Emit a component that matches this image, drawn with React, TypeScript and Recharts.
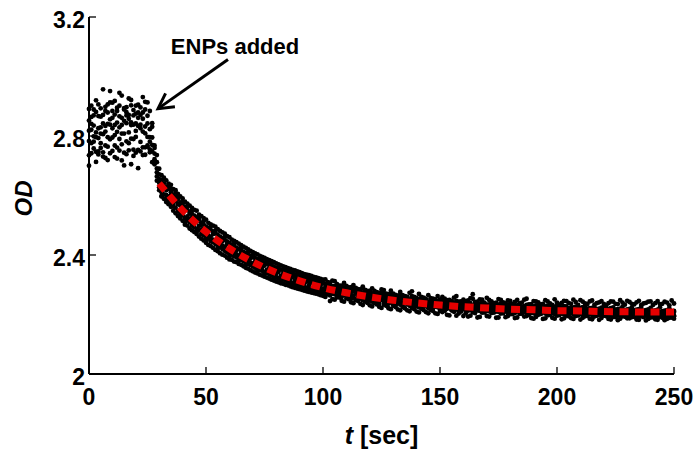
import {
  ComposedChart,
  Line,
  ReferenceDot,
  ReferenceLine,
  Scatter,
  XAxis,
  YAxis,
} from 'recharts'

// MATLAB-style figure: black box, inward ticks, bold Helvetica-like labels.
const FONT = '"Liberation Sans", Arial, Helvetica, sans-serif'
const INK = '#000'
const FIT_RED = '#e60000'
const TICK_LEN = 7

const xTicks = [0, 50, 100, 150, 200, 250]
const yTicks = [2, 2.4, 2.8, 3.2]

// sample times [sec]
const tSec = [
  0, 1, 2, 3, 4, 5, 6, 7, 8, 9, 10, 11, 12, 13, 14, 15, 16, 17, 18, 19,
  20, 21, 22, 23, 24, 25, 26, 27, 28, 29, 30, 31, 32, 33, 34, 35, 36, 37, 38, 39,
  40, 41, 42, 43, 44, 45, 46, 47, 48, 49, 50, 51, 52, 53, 54, 55, 56, 57, 58, 59,
  60, 61, 62, 63, 64, 65, 66, 67, 68, 69, 70, 71, 72, 73, 74, 75, 76, 77, 78, 79,
  80, 81, 82, 83, 84, 85, 86, 87, 88, 89, 90, 91, 92, 93, 94, 95, 96, 97, 98, 99,
  100, 101, 102, 103, 104, 105, 106, 107, 108, 109, 110, 111, 112, 113, 114, 115, 116, 117, 118, 119,
  120, 121, 122, 123, 124, 125, 126, 127, 128, 129, 130, 131, 132, 133, 134, 135, 136, 137, 138, 139,
  140, 141, 142, 143, 144, 145, 146, 147, 148, 149, 150, 151, 152, 153, 154, 155, 156, 157, 158, 159,
  160, 161, 162, 163, 164, 165, 166, 167, 168, 169, 170, 171, 172, 173, 174, 175, 176, 177, 178, 179,
  180, 181, 182, 183, 184, 185, 186, 187, 188, 189, 190, 191, 192, 193, 194, 195, 196, 197, 198, 199,
  200, 201, 202, 203, 204, 205, 206, 207, 208, 209, 210, 211, 212, 213, 214, 215, 216, 217, 218, 219,
  220, 221, 222, 223, 224, 225, 226, 227, 228, 229, 230, 231, 232, 233, 234, 235, 236, 237, 238, 239,
  240, 241, 242, 243, 244, 245, 246, 247, 248, 249, 250,
]

// six OD readings per sample time
const odA = [
  2.852, 2.776, 2.835, 2.881, 2.793, 2.760, 2.842, 2.815, 2.906, 2.789,
  2.861, 2.803, 2.884, 2.829, 2.772, 2.851, 2.897, 2.812, 2.846, 2.790,
  2.875, 2.834, 2.780, 2.858, 2.809, 2.842, 2.781,
  2.795, 2.741, 2.691, 2.655,
  2.652, 2.604, 2.630, 2.585, 2.611, 2.563, 2.595, 2.548, 2.577, 2.533,
  2.561, 2.517, 2.546, 2.499, 2.532, 2.488, 2.519, 2.471, 2.503, 2.460,
  2.490, 2.446, 2.479, 2.437, 2.468, 2.426, 2.457, 2.414, 2.446, 2.403,
  2.435, 2.396, 2.425, 2.388, 2.416, 2.379, 2.407, 2.370, 2.398, 2.361,
  2.389, 2.354, 2.382, 2.347, 2.375, 2.339, 2.368, 2.332, 2.361, 2.325,
  2.354, 2.319, 2.349, 2.314, 2.343, 2.308, 2.337, 2.303, 2.332, 2.297,
  2.327, 2.292, 2.322, 2.288, 2.318, 2.283, 2.313, 2.279, 2.308, 2.274,
  2.301, 2.275, 2.290, 2.270, 2.296, 2.286, 2.271, 2.289, 2.266, 2.282,
  2.259, 2.284, 2.262, 2.275, 2.279, 2.254, 2.271, 2.257, 2.269, 2.247,
  2.270, 2.251, 2.263, 2.248, 2.267, 2.243, 2.258, 2.262, 2.240, 2.255,
  2.259, 2.238, 2.252, 2.236, 2.255, 2.234, 2.250, 2.235, 2.248, 2.227,
  2.245, 2.233, 2.244, 2.229, 2.243, 2.231, 2.240, 2.226, 2.239, 2.228,
  2.237, 2.225, 2.236, 2.222, 2.241, 2.220, 2.233, 2.224, 2.235, 2.218,
  2.232, 2.219, 2.230, 2.215, 2.233, 2.221, 2.228, 2.216, 2.231, 2.218,
  2.227, 2.213, 2.229, 2.217, 2.226, 2.212, 2.223, 2.215, 2.226, 2.210,
  2.224, 2.213, 2.222, 2.208, 2.226, 2.212, 2.221, 2.209, 2.224, 2.213,
  2.220, 2.207, 2.225, 2.211, 2.219, 2.206, 2.223, 2.210, 2.217, 2.204,
  2.222, 2.209, 2.216, 2.203, 2.221, 2.208, 2.215, 2.202, 2.220, 2.207,
  2.214, 2.201, 2.219, 2.206, 2.213, 2.200, 2.218, 2.205, 2.212, 2.199,
  2.217, 2.204, 2.211, 2.198, 2.216, 2.203, 2.210, 2.197, 2.215, 2.202,
  2.209, 2.196, 2.214, 2.201, 2.208, 2.195, 2.213, 2.200, 2.207, 2.194,
  2.212, 2.199, 2.206, 2.193, 2.211, 2.198, 2.205, 2.192, 2.210, 2.197,
]

const odB = [
  2.783, 2.841, 2.758, 2.812, 2.867, 2.829, 2.745, 2.884, 2.796, 2.838,
  2.795, 2.872, 2.814, 2.751, 2.861, 2.808, 2.843, 2.776, 2.903, 2.838,
  2.797, 2.861, 2.826, 2.762, 2.889, 2.768, 2.823,
  2.748, 2.705, 2.664, 2.628,
  2.611, 2.641, 2.589, 2.622, 2.570, 2.601, 2.559, 2.587, 2.541, 2.569,
  2.524, 2.551, 2.510, 2.538, 2.493, 2.526, 2.483, 2.509, 2.466, 2.495,
  2.455, 2.484, 2.443, 2.473, 2.431, 2.462, 2.420, 2.451, 2.409, 2.441,
  2.401, 2.430, 2.392, 2.421, 2.384, 2.411, 2.375, 2.402, 2.366, 2.393,
  2.357, 2.386, 2.350, 2.379, 2.343, 2.371, 2.336, 2.364, 2.329, 2.357,
  2.322, 2.351, 2.317, 2.346, 2.311, 2.340, 2.305, 2.335, 2.300, 2.329,
  2.295, 2.324, 2.290, 2.320, 2.286, 2.315, 2.281, 2.311, 2.276, 2.306,
  2.279, 2.296, 2.245, 2.289, 2.274, 2.263, 2.291, 2.268, 2.283, 2.261,
  2.280, 2.265, 2.278, 2.251, 2.260, 2.273, 2.248, 2.276, 2.250, 2.266,
  2.253, 2.268, 2.242, 2.266, 2.249, 2.260, 2.238, 2.245, 2.257, 2.235,
  2.242, 2.253, 2.233, 2.257, 2.241, 2.249, 2.229, 2.254, 2.231, 2.246,
  2.232, 2.249, 2.226, 2.241, 2.225, 2.248, 2.222, 2.238, 2.224, 2.243,
  2.221, 2.240, 2.219, 2.235, 2.226, 2.234, 2.217, 2.238, 2.219, 2.231,
  2.215, 2.236, 2.222, 2.229, 2.218, 2.235, 2.212, 2.230, 2.214, 2.233,
  2.211, 2.226, 2.216, 2.231, 2.209, 2.224, 2.208, 2.230, 2.213, 2.222,
  2.207, 2.229, 2.211, 2.225, 2.214, 2.228, 2.206, 2.224, 2.211, 2.227,
  2.205, 2.222, 2.210, 2.226, 2.203, 2.221, 2.209, 2.225, 2.202, 2.220,
  2.208, 2.224, 2.201, 2.219, 2.207, 2.223, 2.200, 2.218, 2.206, 2.222,
  2.199, 2.217, 2.205, 2.221, 2.198, 2.216, 2.204, 2.220, 2.197, 2.215,
  2.203, 2.219, 2.196, 2.214, 2.202, 2.218, 2.195, 2.213, 2.201, 2.217,
  2.194, 2.212, 2.200, 2.216, 2.193, 2.211, 2.199, 2.215, 2.192, 2.210,
  2.198, 2.214, 2.191, 2.209, 2.197, 2.213, 2.190, 2.208, 2.196, 2.212,
]

const odC = [
  2.818, 2.864, 2.799, 2.747, 2.826, 2.893, 2.806, 2.768, 2.841, 2.951,
  2.826, 2.768, 2.845, 2.902, 2.808, 2.744, 2.869, 2.858, 2.791, 2.869,
  2.817, 2.753, 2.896, 2.815, 2.762, 2.913, 2.796,
  2.831, 2.768, 2.712, 2.671,
  2.637, 2.628, 2.618, 2.640, 2.599, 2.590, 2.610, 2.571, 2.566, 2.545,
  2.552, 2.530, 2.539, 2.525, 2.517, 2.512, 2.498, 2.501, 2.488, 2.470,
  2.481, 2.461, 2.470, 2.448, 2.459, 2.437, 2.445, 2.428, 2.437, 2.416,
  2.422, 2.409, 2.414, 2.399, 2.407, 2.390, 2.396, 2.381, 2.388, 2.372,
  2.378, 2.365, 2.371, 2.358, 2.364, 2.350, 2.357, 2.343, 2.350, 2.336,
  2.343, 2.330, 2.338, 2.325, 2.332, 2.319, 2.326, 2.314, 2.321, 2.308,
  2.316, 2.303, 2.311, 2.299, 2.307, 2.294, 2.302, 2.290, 2.297, 2.285,
  2.292, 2.308, 2.281, 2.295, 2.268, 2.293, 2.284, 2.259, 2.290, 2.277,
  2.268, 2.253, 2.286, 2.270, 2.255, 2.281, 2.266, 2.252, 2.274, 2.261,
  2.243, 2.276, 2.257, 2.250, 2.273, 2.247, 2.264, 2.236, 2.268, 2.249,
  2.231, 2.262, 2.247, 2.240, 2.261, 2.237, 2.245, 2.278, 2.239, 2.252,
  2.224, 2.241, 2.256, 2.234, 2.239, 2.228, 2.245, 2.251, 2.231, 2.219,
  2.233, 2.228, 2.244, 2.227, 2.214, 2.239, 2.229, 2.221, 2.242, 2.225,
  2.227, 2.213, 2.238, 2.224, 2.209, 2.228, 2.236, 2.219, 2.226, 2.212,
  2.234, 2.220, 2.207, 2.225, 2.218, 2.236, 2.221, 2.211, 2.233, 2.217,
  2.228, 2.205, 2.231, 2.218, 2.203, 2.223, 2.214, 2.229, 2.205, 2.218,
  2.231, 2.213, 2.202, 2.220, 2.227, 2.211, 2.201, 2.219, 2.226, 2.209,
  2.216, 2.203, 2.228, 2.212, 2.199, 2.217, 2.224, 2.208, 2.214, 2.201,
  2.225, 2.210, 2.197, 2.215, 2.222, 2.206, 2.212, 2.199, 2.223, 2.209,
  2.195, 2.213, 2.221, 2.205, 2.210, 2.197, 2.220, 2.207, 2.193, 2.211,
  2.219, 2.203, 2.208, 2.196, 2.218, 2.206, 2.191, 2.210, 2.217, 2.201,
  2.207, 2.195, 2.216, 2.204, 2.190, 2.209, 2.215, 2.200, 2.206, 2.194,
]

const odD = [
  2.700, 2.821, 2.889, 2.796, 2.738, 2.808, 2.871, 2.834, 2.719, 2.856,
  2.884, 2.837, 2.724, 2.866, 2.837, 2.889, 2.782, 2.926, 2.837, 2.754,
  2.842, 2.905, 2.838, 2.879, 2.832, 2.797, 2.755,
  2.770, 2.722, 2.678, 2.642,
  2.598, 2.655, 2.602, 2.597, 2.624, 2.572, 2.581, 2.596, 2.530, 2.578,
  2.509, 2.562, 2.521, 2.551, 2.506, 2.479, 2.530, 2.486, 2.514, 2.451,
  2.466, 2.497, 2.452, 2.481, 2.422, 2.455, 2.431, 2.462, 2.418, 2.394,
  2.410, 2.437, 2.401, 2.383, 2.425, 2.402, 2.369, 2.410, 2.374, 2.399,
  2.364, 2.348, 2.389, 2.368, 2.337, 2.378, 2.345, 2.371, 2.324, 2.349,
  2.361, 2.314, 2.326, 2.352, 2.318, 2.303, 2.344, 2.327, 2.295, 2.336,
  2.303, 2.331, 2.285, 2.312, 2.324, 2.279, 2.290, 2.317, 2.284, 2.271,
  2.270, 2.284, 2.299, 2.276, 2.285, 2.279, 2.262, 2.281, 2.272, 2.294,
  2.285, 2.276, 2.257, 2.283, 2.271, 2.262, 2.289, 2.268, 2.256, 2.279,
  2.262, 2.245, 2.271, 2.237, 2.258, 2.282, 2.249, 2.255, 2.246, 2.263,
  2.251, 2.244, 2.266, 2.229, 2.247, 2.258, 2.236, 2.243, 2.226, 2.238,
  2.251, 2.229, 2.238, 2.247, 2.221, 2.240, 2.233, 2.229, 2.244, 2.236,
  2.247, 2.216, 2.231, 2.241, 2.233, 2.225, 2.246, 2.212, 2.228, 2.237,
  2.221, 2.230, 2.216, 2.268, 2.226, 2.214, 2.222, 2.243, 2.208, 2.227,
  2.219, 2.238, 2.224, 2.210, 2.233, 2.217, 2.229, 2.222, 2.206, 2.235,
  2.216, 2.221, 2.214, 2.236, 2.220, 2.209, 2.232, 2.213, 2.219, 2.204,
  2.215, 2.228, 2.218, 2.207, 2.214, 2.230, 2.217, 2.205, 2.212, 2.229,
  2.200, 2.218, 2.210, 2.227, 2.215, 2.204, 2.211, 2.226, 2.198, 2.216,
  2.209, 2.228, 2.213, 2.202, 2.210, 2.225, 2.196, 2.214, 2.207, 2.227,
  2.211, 2.200, 2.208, 2.224, 2.194, 2.212, 2.206, 2.226, 2.209, 2.198,
  2.205, 2.223, 2.192, 2.210, 2.204, 2.225, 2.208, 2.197, 2.203, 2.222,
  2.191, 2.209, 2.202, 2.224, 2.207, 2.196, 2.201, 2.221, 2.190, 2.208,
]

const odE = [
  2.735, 2.902, 2.781, 2.920, 2.748, 2.865, 2.957, 2.726, 2.879, 2.742,
  2.912, 2.729, 2.895, 2.790, 2.936, 2.701, 2.880, 2.752, 2.921, 2.733,
  2.902, 2.692, 2.871, 2.736, 2.915, 2.764, 2.884,
  2.843, 2.712, 2.736, 2.618,
  2.668, 2.589, 2.651, 2.571, 2.636, 2.621, 2.540, 2.605, 2.523, 2.590,
  2.502, 2.573, 2.489, 2.558, 2.477, 2.549, 2.462, 2.531, 2.449, 2.519,
  2.434, 2.503, 2.424, 2.495, 2.413, 2.481, 2.401, 2.472, 2.391, 2.460,
  2.452, 2.378, 2.443, 2.370, 2.433, 2.362, 2.424, 2.354, 2.414, 2.345,
  2.405, 2.338, 2.397, 2.331, 2.390, 2.324, 2.383, 2.317, 2.376, 2.311,
  2.368, 2.305, 2.362, 2.300, 2.356, 2.295, 2.350, 2.290, 2.345, 2.285,
  2.339, 2.280, 2.334, 2.276, 2.330, 2.272, 2.325, 2.268, 2.320, 2.263,
  2.318, 2.268, 2.306, 2.252, 2.312, 2.258, 2.297, 2.246, 2.306, 2.254,
  2.291, 2.241, 2.299, 2.248, 2.285, 2.236, 2.294, 2.243, 2.279, 2.231,
  2.288, 2.238, 2.275, 2.226, 2.284, 2.233, 2.270, 2.221, 2.280, 2.229,
  2.266, 2.217, 2.276, 2.225, 2.262, 2.214, 2.273, 2.222, 2.259, 2.210,
  2.269, 2.219, 2.256, 2.208, 2.265, 2.215, 2.253, 2.204, 2.262, 2.212,
  2.259, 2.212, 2.248, 2.197, 2.246, 2.209, 2.262, 2.203, 2.244, 2.195,
  2.245, 2.193, 2.255, 2.207, 2.242, 2.190, 2.251, 2.206, 2.240, 2.195,
  2.249, 2.205, 2.238, 2.189, 2.252, 2.203, 2.241, 2.191, 2.247, 2.201,
  2.236, 2.188, 2.249, 2.202, 2.240, 2.193, 2.253, 2.199, 2.235, 2.186,
  2.244, 2.199, 2.234, 2.185, 2.248, 2.197, 2.237, 2.189, 2.251, 2.196,
  2.233, 2.184, 2.246, 2.196, 2.239, 2.188, 2.250, 2.195, 2.232, 2.183,
  2.243, 2.194, 2.235, 2.186, 2.247, 2.193, 2.238, 2.182, 2.245, 2.196,
  2.231, 2.185, 2.244, 2.192, 2.236, 2.181, 2.248, 2.194, 2.233, 2.187,
  2.242, 2.191, 2.234, 2.183, 2.246, 2.195, 2.237, 2.180, 2.243, 2.190,
  2.232, 2.184, 2.245, 2.193, 2.236, 2.181, 2.240, 2.189, 2.247, 2.186,
]

const odF = [
  2.891, 2.742, 2.869, 2.713, 2.906, 2.776, 2.731, 2.898, 2.764, 2.913,
  2.750, 2.918, 2.761, 2.945, 2.718, 2.894, 2.739, 2.871, 2.705, 2.887,
  2.744, 2.879, 2.748, 2.931, 2.737, 2.868, 2.745,
  2.712, 2.760, 2.650, 2.690,
  2.597, 2.660, 2.578, 2.633, 2.562, 2.549, 2.618, 2.531, 2.597, 2.515,
  2.579, 2.499, 2.566, 2.483, 2.552, 2.471, 2.536, 2.455, 2.524, 2.441,
  2.508, 2.430, 2.499, 2.417, 2.487, 2.406, 2.476, 2.398, 2.463, 2.385,
  2.384, 2.447, 2.376, 2.438, 2.367, 2.428, 2.357, 2.419, 2.349, 2.410,
  2.341, 2.402, 2.334, 2.394, 2.327, 2.386, 2.321, 2.379, 2.314, 2.372,
  2.308, 2.365, 2.303, 2.359, 2.298, 2.353, 2.292, 2.348, 2.287, 2.342,
  2.283, 2.336, 2.278, 2.332, 2.274, 2.326, 2.270, 2.322, 2.265, 2.317,
  2.259, 2.309, 2.264, 2.314, 2.250, 2.302, 2.257, 2.297, 2.243, 2.296,
  2.251, 2.292, 2.238, 2.289, 2.245, 2.284, 2.232, 2.283, 2.239, 2.278,
  2.227, 2.279, 2.234, 2.273, 2.222, 2.272, 2.229, 2.268, 2.218, 2.270,
  2.225, 2.263, 2.214, 2.265, 2.221, 2.259, 2.211, 2.262, 2.218, 2.256,
  2.207, 2.259, 2.215, 2.252, 2.204, 2.255, 2.212, 2.249, 2.202, 2.251,
  2.208, 2.253, 2.199, 2.249, 2.214, 2.257, 2.196, 2.243, 2.210, 2.250,
  2.204, 2.247, 2.196, 2.253, 2.205, 2.243, 2.192, 2.250, 2.207, 2.256,
  2.193, 2.244, 2.207, 2.240, 2.190, 2.249, 2.204, 2.237, 2.195, 2.246,
  2.201, 2.242, 2.190, 2.237, 2.204, 2.250, 2.195, 2.234, 2.188, 2.245,
  2.192, 2.241, 2.202, 2.236, 2.187, 2.244, 2.199, 2.232, 2.186, 2.240,
  2.198, 2.239, 2.187, 2.245, 2.194, 2.236, 2.185, 2.242, 2.197, 2.248,
  2.189, 2.237, 2.196, 2.244, 2.184, 2.233, 2.197, 2.241, 2.188, 2.236,
  2.195, 2.238, 2.183, 2.243, 2.191, 2.235, 2.186, 2.240, 2.194, 2.246,
  2.187, 2.236, 2.193, 2.241, 2.182, 2.232, 2.196, 2.239, 2.185, 2.244,
  2.194, 2.238, 2.182, 2.235, 2.190, 2.243, 2.185, 2.231, 2.196, 2.237,
]

// exponential fit after the ENPs were added
const fitT = [30, 40, 50, 60, 70, 80, 90, 100, 110, 120, 130, 140, 150, 160, 170, 180, 190, 200, 210, 220, 230, 240, 250]
const fitOD = [
  2.640, 2.550, 2.478, 2.422, 2.377, 2.341, 2.313, 2.290, 2.273, 2.259, 2.248, 2.239,
  2.232, 2.226, 2.222, 2.218, 2.216, 2.213, 2.212, 2.210, 2.209, 2.208, 2.208,
]

// annotation anchor points, in data units
const NOTE_TEXT = { t: 62.4, od: 3.104 }
const NOTE_ARROW_FROM = { x: 59.4, y: 3.057 }
const NOTE_ARROW_TIP = { x: 29.5, y: 2.892 }

const points = [odA, odB, odC, odD, odE, odF].flatMap((series) =>
  series.map((od, i) => ({ t: tSec[i], od })),
)
const fitData = fitT.map((t, i) => ({ t, od: fitOD[i] }))

const labelStyle = { fontFamily: FONT, fontWeight: 700, fontSize: 23, fill: INK }

function BottomTick({ x, y, payload }: any) {
  return (
    <g>
      <line x1={x} y1={y} x2={x} y2={y - TICK_LEN} stroke={INK} strokeWidth={1.3} />
      <text x={x} y={y + 31} textAnchor="middle" {...labelStyle}>
        {payload.value}
      </text>
    </g>
  )
}

function TopTick({ x, y }: any) {
  return <line x1={x} y1={y} x2={x} y2={y + TICK_LEN} stroke={INK} strokeWidth={1.3} />
}

function LeftTick({ x, y, payload }: any) {
  return (
    <g>
      <line x1={x} y1={y} x2={x + TICK_LEN} y2={y} stroke={INK} strokeWidth={1.3} />
      <text x={x - 4} y={y + 11} textAnchor="end" {...labelStyle}>
        {payload.value}
      </text>
    </g>
  )
}

function RightTick({ x, y }: any) {
  return <line x1={x} y1={y} x2={x - TICK_LEN} y2={y} stroke={INK} strokeWidth={1.3} />
}

function Arrow({ x1, y1, x2, y2 }: any) {
  const dx = x1 - x2
  const dy = y1 - y2
  const len = Math.hypot(dx, dy) || 1
  const ux = dx / len
  const uy = dy / len
  const c = Math.cos(0.5)
  const s = Math.sin(0.5)
  const L = 17
  const ax = x2 + (ux * c - uy * s) * L
  const ay = y2 + (ux * s + uy * c) * L
  const bx = x2 + (ux * c + uy * s) * L
  const by = y2 + (-ux * s + uy * c) * L
  return (
    <g stroke={INK} strokeWidth={3} fill="none" strokeLinecap="butt">
      <line x1={x1} y1={y1} x2={x2} y2={y2} />
      <polyline points={`${ax},${ay} ${x2},${y2} ${bx},${by}`} strokeLinejoin="miter" />
    </g>
  )
}

export default function App() {
  return (
    <div style={{ position: 'absolute', left: 0, top: 0, background: '#fff' }}>
      <ComposedChart width={696} height={451} margin={{ top: 17, right: 22, bottom: 0, left: 0 }}>
        <XAxis
          dataKey="t"
          type="number"
          domain={[0, 250]}
          ticks={xTicks}
          interval={0}
          height={77}
          tickSize={0}
          tickMargin={0}
          tickLine={false}
          axisLine={{ stroke: INK, strokeWidth: 2 }}
          tick={<BottomTick />}
          label={{
            content: ({ viewBox }: any) => (
              <text x={viewBox.x + viewBox.width / 2} y={viewBox.y + 70} textAnchor="middle" {...labelStyle} fontSize={25}>
                <tspan fontStyle="italic">t</tspan> [sec]
              </text>
            ),
          }}
        />
        <XAxis
          xAxisId="top"
          orientation="top"
          type="number"
          domain={[0, 250]}
          ticks={xTicks}
          interval={0}
          height={0}
          tickSize={0}
          tickMargin={0}
          tickLine={false}
          axisLine={{ stroke: INK, strokeWidth: 2 }}
          tick={<TopTick />}
        />
        <YAxis
          dataKey="od"
          type="number"
          domain={[2, 3.2]}
          ticks={yTicks}
          interval={0}
          width={89}
          tickSize={0}
          tickMargin={0}
          tickLine={false}
          axisLine={{ stroke: INK, strokeWidth: 2 }}
          tick={<LeftTick />}
          label={{
            content: ({ viewBox }: any) => {
              const cy = viewBox.y + viewBox.height / 2 + 3
              return (
                <text x={32} y={cy} transform={`rotate(-90, 32, ${cy})`} textAnchor="middle" {...labelStyle} fontSize={24} fontStyle="italic">
                  OD
                </text>
              )
            },
          }}
        />
        <YAxis
          yAxisId="right"
          orientation="right"
          type="number"
          domain={[2, 3.2]}
          ticks={yTicks}
          interval={0}
          width={0}
          tickSize={0}
          tickMargin={0}
          tickLine={false}
          axisLine={{ stroke: INK, strokeWidth: 2 }}
          tick={<RightTick />}
        />
        <Scatter
          data={points}
          isAnimationActive={false}
          shape={(p: any) => <circle cx={p.cx} cy={p.cy} r={2.4} fill={INK} />}
        />
        <Line
          data={fitData}
          dataKey="od"
          type="monotone"
          stroke={FIT_RED}
          strokeWidth={7}
          strokeDasharray="9 6.5"
          dot={false}
          activeDot={false}
          isAnimationActive={false}
          zIndex={1000}
        />
        <ReferenceLine
          segment={[NOTE_ARROW_FROM, NOTE_ARROW_TIP]}
          shape={(p: any) => <Arrow {...p} />}
        />
        <ReferenceDot
          x={NOTE_TEXT.t}
          y={NOTE_TEXT.od}
          r={0}
          shape={(p: any) => (
            <text x={p.cx} y={p.cy + 8} textAnchor="middle" {...labelStyle} fontSize={22}>
              ENPs added
            </text>
          )}
        />
      </ComposedChart>
    </div>
  )
}
